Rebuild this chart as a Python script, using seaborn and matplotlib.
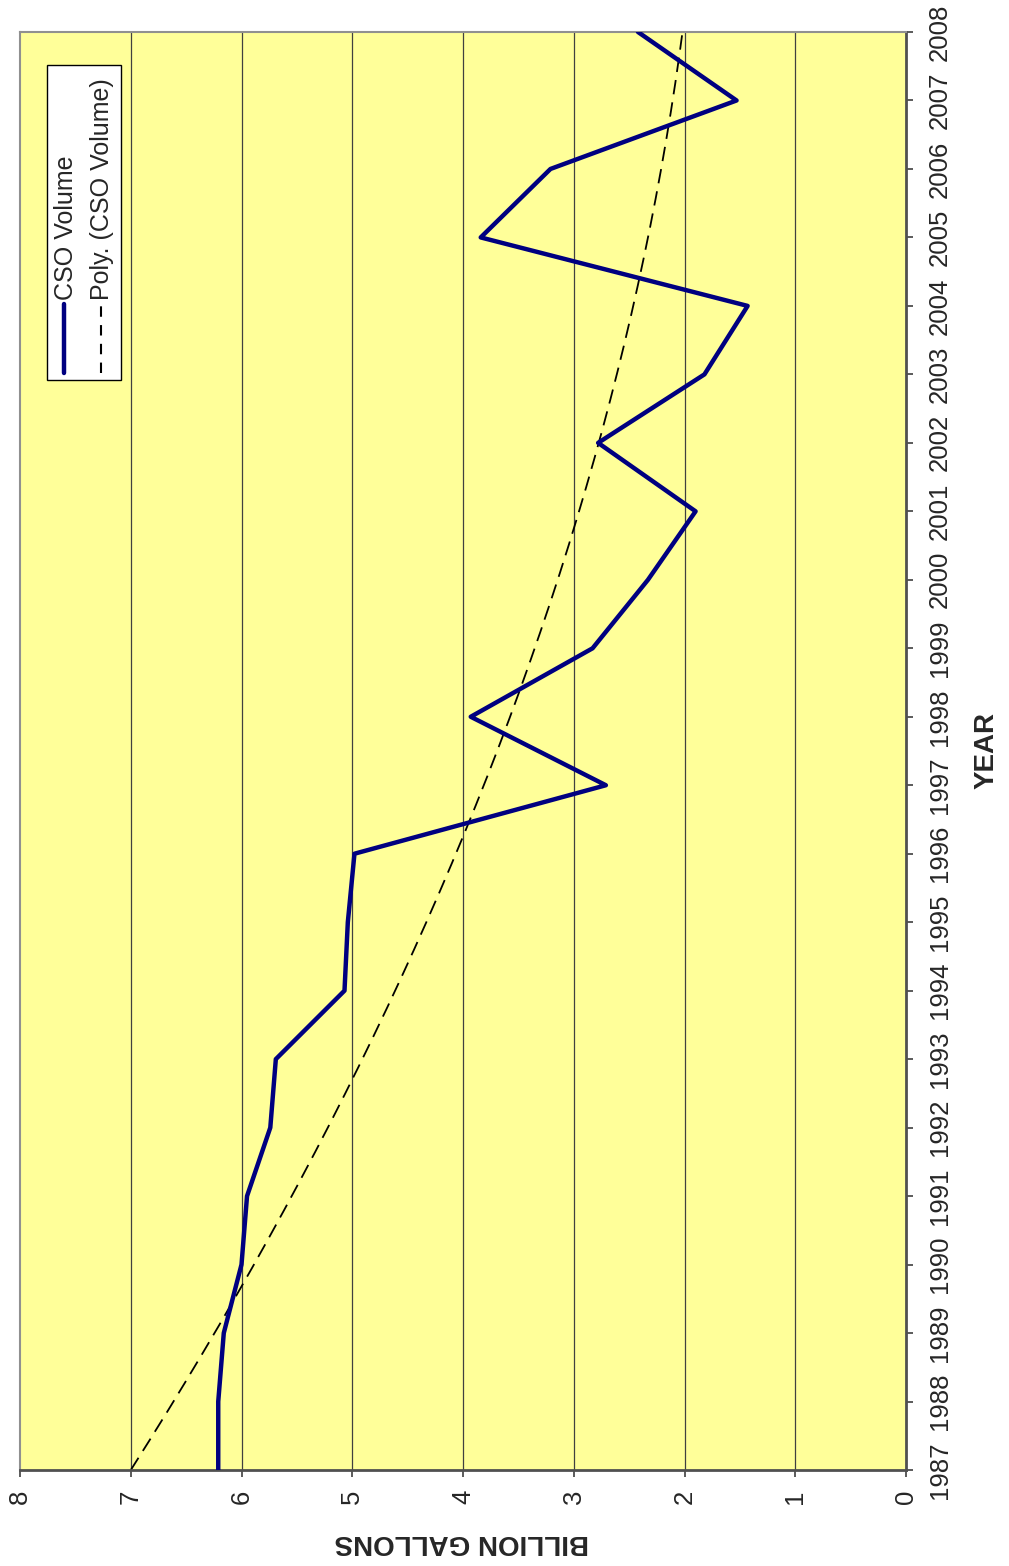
import numpy as np
import pandas as pd
import matplotlib
matplotlib.use("Agg")
import matplotlib.pyplot as plt
import seaborn as sns
from matplotlib.lines import Line2D

# Annual combined sewer overflow volume (billion gallons)
years = list(range(1987, 2009))
cso_volume = [6.21, 6.21, 6.16, 6.00, 5.95, 5.74, 5.69, 5.07, 5.04, 4.98,
              2.71, 3.93, 2.83, 2.33, 1.90, 2.78, 1.82, 1.43, 3.84, 3.21,
              1.53, 2.42]
value_ticks = [0, 1, 2, 3, 4, 5, 6, 7, 8]

sns.set_theme(style="white")
plt.rcParams["font.family"] = ["Liberation Sans", "DejaVu Sans"]

df = pd.DataFrame({"year": years, "volume": cso_volume})

# Second-order polynomial trend of the volume
coef = np.polyfit(df["year"] - years[0], df["volume"], 2)
trend_years = np.linspace(years[0], years[-1], 200)
trend = pd.DataFrame({"year": trend_years,
                      "volume": np.polyval(coef, trend_years - years[0])})

fig = plt.figure(figsize=(10.09, 15.66), dpi=100)
ax = fig.add_axes([20 / 1009, 96 / 1566, 886 / 1009, 1438 / 1566])
ax.set_facecolor("#FFFF99")

# Page is laid out sideways: value runs right-to-left, years bottom-to-top
for v in value_ticks[1:-1]:
    ax.axvline(v, color="#404040", lw=0.9, zorder=1)

sns.lineplot(data=trend, x="volume", y="year", orient="y", estimator=None,
             sort=False, ax=ax, color="black", lw=1.3,
             linestyle=(0, (8, 4.5)), zorder=2)
sns.lineplot(data=df, x="volume", y="year", orient="y", estimator=None,
             sort=False, ax=ax, color="#000080", lw=3.2, zorder=3)

ax.set_xlim(8, 0)
ax.set_ylim(years[0], years[-1])
ax.set_xticks(value_ticks)
ax.set_xticklabels([str(v) for v in value_ticks], rotation=90, fontsize=18.5)
ax.set_yticks(years)
ax.set_yticklabels([str(y) for y in years], rotation=90, fontsize=18.5,
                   va="center")
ax.yaxis.tick_right()
ax.tick_params(axis="x", direction="out", length=5, width=1.2,
               color="#404040", pad=9, bottom=True)
ax.tick_params(axis="y", direction="out", length=5, width=1.2,
               color="#404040", pad=11, right=True, left=False)

for side in ["bottom", "right"]:
    ax.spines[side].set_color("#505050")
    ax.spines[side].set_linewidth(2.0)
for side in ["top", "left"]:
    ax.spines[side].set_color("#909090")
    ax.spines[side].set_linewidth(1.5)

ax.set_xlabel("")
ax.set_ylabel("")
fig.text(462 / 1009, 1 - 1542 / 1566, "BILLION GALLONS", rotation=180,
         fontsize=20, fontweight="bold", ha="center", va="center")
fig.text(987 / 1009, 1 - 750 / 1566, "YEAR", rotation=90,
         fontsize=20, fontweight="bold", ha="center", va="center")

# Legend box drawn in axes coordinates, rotated with the page
def ax_xy(px, py):
    return ((px - 20) / 886, 1 - (py - 32) / 1438)

x0, y0 = ax_xy(47, 380)
x1, y1 = ax_xy(121, 65)
ax.add_patch(plt.Rectangle((x0, y0), x1 - x0, y1 - y0, transform=ax.transAxes,
                           facecolor="white", edgecolor="black", lw=1.0,
                           zorder=5))
hx, hy0 = ax_xy(64, 373)
_, hy1 = ax_xy(64, 304)
ax.add_line(Line2D([hx, hx], [hy0, hy1], transform=ax.transAxes,
                   color="#000080", lw=3.2, zorder=6))
tx, ty = ax_xy(66, 300)
ax.text(tx, ty, "CSO Volume", transform=ax.transAxes, rotation=90,
        fontsize=18, ha="center", va="bottom", zorder=6)
hx2, _ = ax_xy(101, 0)
ax.add_line(Line2D([hx2, hx2], [hy0, hy1], transform=ax.transAxes,
                   color="black", lw=1.5, linestyle=(0, (5, 4)), zorder=6))
tx2, _ = ax_xy(102, 0)
ax.text(tx2, ty, "Poly. (CSO Volume)", transform=ax.transAxes, rotation=90,
        fontsize=18, ha="center", va="bottom", zorder=6)

fig.savefig("out.png", dpi=100, facecolor="white")
